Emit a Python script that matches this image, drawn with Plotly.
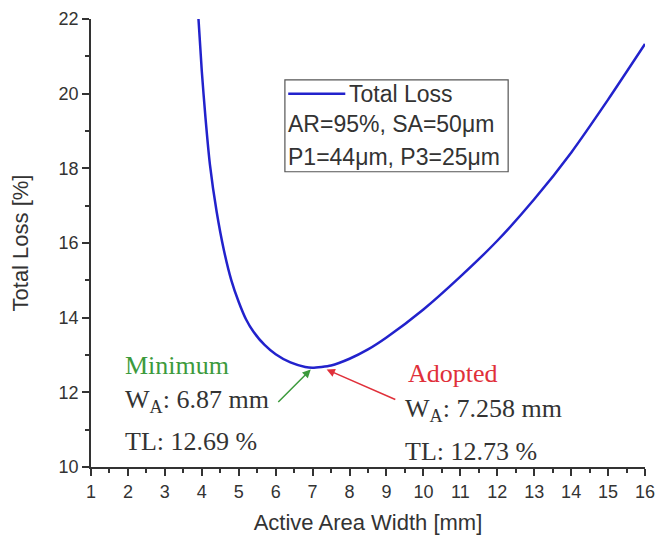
import plotly.graph_objects as go

# Data
width_mm = [3.91, 4.00, 4.10, 4.22, 4.40, 4.60, 4.80, 5.00, 5.20, 5.40, 5.70, 6.00,
            6.40, 6.80, 7.00, 7.50, 8.00, 8.50, 9.00, 10.00, 11.00, 12.00, 13.00,
            14.00, 15.00, 16.00]
total_loss = [22.0, 20.6, 19.35, 18.1, 16.85, 15.8, 15.0, 14.42, 13.95, 13.62, 13.27, 13.02,
              12.80, 12.68, 12.66, 12.72, 12.90, 13.15, 13.47, 14.22, 15.10, 16.06, 17.17,
              18.42, 19.84, 21.33]

x_ticks = list(range(1, 17))
y_ticks = [10, 12, 14, 16, 18, 20, 22]

min_w, min_tl = 6.87, 12.69
adopt_w, adopt_tl = 7.258, 12.73

BLUE = "#2222cc"
GREEN = "#3c9a3c"
RED = "#e0303a"
TXT = "#333333"
SERIF = "Liberation Serif, Times New Roman, serif"
SANS = "Liberation Sans, Arial, sans-serif"

fig = go.Figure()
fig.add_trace(go.Scatter(
    x=width_mm, y=total_loss, mode="lines",
    line=dict(color=BLUE, width=2.5, shape="spline", smoothing=0.6),
    name="Total Loss", showlegend=False,
))

axis_common = dict(
    showline=True, linecolor="#333333", linewidth=1.8,
    ticks="outside", tickcolor="#333333", tickwidth=1.5, ticklen=7,
    showgrid=False, zeroline=False, mirror=False, automargin=False,
    tickfont=dict(family=SANS, size=18, color=TXT),
)

fig.update_xaxes(
    range=[1, 16], tickvals=x_ticks, ticktext=[str(v) for v in x_ticks],
    minor=dict(ticks="outside", ticklen=4, tickwidth=1.5, tickcolor="#333333", dtick=0.5, showgrid=False),
    title=dict(text="Active Area Width [mm]", font=dict(family=SANS, size=22, color=TXT), standoff=14),
    **axis_common,
)
fig.update_yaxes(
    range=[10, 22], tickvals=y_ticks, ticktext=[str(v) for v in y_ticks],
    minor=dict(ticks="outside", ticklen=4, tickwidth=1.5, tickcolor="#333333", dtick=1, showgrid=False),
    title=dict(text="Total Loss [%]", font=dict(family=SANS, size=22, color=TXT), standoff=24),
    **axis_common,
)

annotations = []
# Minimum block
annotations += [
    dict(x=1.87, y=12.73, xref="x", yref="y", text="Minimum", showarrow=False,
         xanchor="left", yanchor="middle", font=dict(family=SERIF, size=26, color=GREEN)),
    dict(x=1.87, y=11.76, xref="x", yref="y", text=f"W<sub>A</sub>: {min_w} mm", showarrow=False,
         xanchor="left", yanchor="middle", font=dict(family=SERIF, size=26, color=TXT)),
    dict(x=1.87, y=10.68, xref="x", yref="y", text=f"TL: {min_tl} %", showarrow=False,
         xanchor="left", yanchor="middle", font=dict(family=SERIF, size=26, color=TXT)),
    dict(x=6.95, y=12.61, xref="x", yref="y", ax=6.03, ay=11.70, axref="x", ayref="y",
         text="", showarrow=True, arrowhead=2, arrowsize=1.1, arrowwidth=1.5, arrowcolor=GREEN,
         standoff=0, startstandoff=0),
]
# Adopted block
annotations += [
    dict(x=9.53, y=12.51, xref="x", yref="y", text="Adopted", showarrow=False,
         xanchor="left", yanchor="middle", font=dict(family=SERIF, size=26, color=RED)),
    dict(x=9.45, y=11.53, xref="x", yref="y", text=f"W<sub>A</sub>: {adopt_w} mm", showarrow=False,
         xanchor="left", yanchor="middle", font=dict(family=SERIF, size=26, color=TXT)),
    dict(x=9.45, y=10.42, xref="x", yref="y", text=f"TL: {adopt_tl} %", showarrow=False,
         xanchor="left", yanchor="middle", font=dict(family=SERIF, size=26, color=TXT)),
    dict(x=7.38, y=12.61, xref="x", yref="y", ax=9.28, ay=11.79, axref="x", ayref="y",
         text="", showarrow=True, arrowhead=2, arrowsize=1.1, arrowwidth=1.5, arrowcolor=RED,
         standoff=0, startstandoff=0),
]

# Legend box (drawn manually)
L, R, T, B = 0.350, 0.753, 0.864, 0.659
shapes = [
    dict(type="rect", xref="paper", yref="paper", x0=L, x1=R, y0=B, y1=T,
         line=dict(color="#555555", width=1.2), fillcolor="white", layer="below"),
    dict(type="line", xref="paper", yref="paper", x0=0.356, x1=0.459, y0=0.833, y1=0.833,
         line=dict(color=BLUE, width=2.5)),
]
annotations += [
    dict(x=0.462, y=0.833, xref="paper", yref="paper", text="Total Loss", showarrow=False,
         xanchor="left", yanchor="middle", font=dict(family=SANS, size=23, color=TXT)),
    dict(x=0.352, y=0.766, xref="paper", yref="paper", text="AR=95%, SA=50μm", showarrow=False,
         xanchor="left", yanchor="middle", font=dict(family=SANS, size=23, color=TXT)),
    dict(x=0.352, y=0.692, xref="paper", yref="paper", text="P1=44μm, P3=25μm", showarrow=False,
         xanchor="left", yanchor="middle", font=dict(family=SANS, size=23, color=TXT)),
]

fig.update_layout(
    width=658, height=539,
    margin=dict(l=91, r=13, t=19, b=72),
    paper_bgcolor="white", plot_bgcolor="white",
    shapes=shapes, annotations=annotations,
    showlegend=False,
)

fig.write_html("out.html")
